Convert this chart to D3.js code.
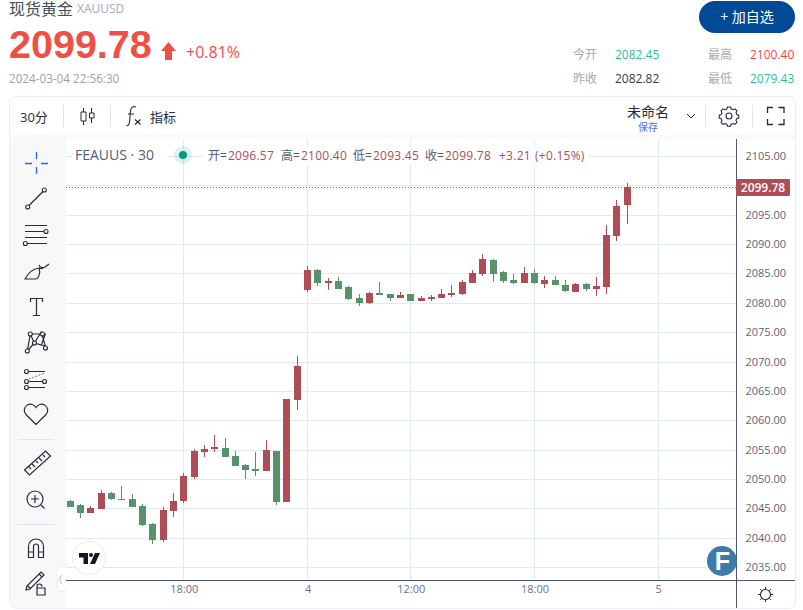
<!DOCTYPE html>
<html>
<head>
<meta charset="utf-8">
<script src="https://d3js.org/d3.v7.min.js"></script>
<style>
body { margin: 0; background: #fff; overflow: hidden; }
svg { display: block; }
text { font-family: "Open Sans", "Noto Sans CJK SC", sans-serif; }
</style>
</head>
<body>
<div id="chart"></div>
<script>
// candle values (red = up, green = down)
var opens = [2046.24,2045.56,2044.25,2044.88,2047.6,2046.58,2046.58,2045.39,2042.32,2039.65,2044.54,2046.24,2050.33,2054.59,2055.1,2055.27,2053.91,2052.37,2051.69,2051.35,2054.76,2046.07,2063.45,2082.18,2085.59,2083.37,2083.71,2082.69,2080.82,2079.97,2081.67,2081.5,2080.82,2081.5,2080.31,2080.65,2080.82,2081.33,2081.5,2083.37,2084.91,2087.29,2085.25,2083.88,2083.37,2085.08,2083.2,2083.88,2083.03,2081.84,2083.2,2082.35,2082.69,2091.38,2096.57];
var highs = [2046.41,2045.73,2045.39,2048.12,2047.77,2048.8,2047.43,2045.73,2042.49,2045.22,2047.6,2051.01,2055.1,2055.78,2057.48,2056.97,2054.76,2052.54,2054.59,2056.63,2054.76,2063.62,2070.94,2086.27,2085.76,2084.22,2084.4,2082.86,2081.5,2081.84,2083.54,2081.5,2081.84,2081.5,2081.16,2081.33,2082.35,2083.03,2083.88,2085.59,2088.31,2087.46,2085.42,2084.91,2086.1,2085.76,2084.57,2084.57,2083.88,2083.37,2083.37,2084.4,2093.25,2097.51,2100.4];
var lows = [2045.27,2043.4,2044.25,2044.88,2046.41,2046.41,2045.27,2042.03,2038.92,2039.31,2043.57,2045.9,2049.99,2053.74,2054.59,2053.74,2052.2,2049.99,2050.5,2051.35,2045.56,2046.07,2061.74,2081.84,2082.86,2082.18,2082.35,2080.48,2079.46,2079.8,2081.33,2080.31,2080.82,2080.31,2080.31,2080.31,2080.82,2080.99,2081.33,2083.37,2084.57,2083.54,2083.37,2083.2,2083.37,2083.2,2082.52,2083.03,2081.84,2081.84,2082.01,2081.16,2081.5,2090.53,2093.45];
var closes = [2045.27,2044.25,2045.05,2047.6,2046.58,2046.41,2045.27,2042.2,2039.65,2044.71,2046.24,2050.5,2054.76,2055.1,2055.44,2053.74,2052.2,2051.52,2051.35,2054.93,2046.07,2063.62,2069.24,2085.59,2083.37,2083.71,2082.35,2080.65,2079.97,2081.67,2081.33,2080.82,2081.33,2080.31,2080.82,2080.99,2081.5,2081.67,2083.54,2085.08,2087.46,2084.91,2083.71,2083.37,2085.08,2083.37,2083.88,2083.03,2082.01,2083.2,2082.35,2082.86,2091.55,2096.49,2099.78];
var priceTicks = [2035,2040,2045,2050,2055,2060,2065,2070,2075,2080,2085,2090,2095,2100,2105];
var timeTicks = [11,23,33,45,57];
var timeLabels = ["18:00","4","12:00","18:00","5"];
var lastPrice = 2099.78;
var stats = [
    ["今开","2082.45","#2fbd97",573,55],
    ["最高","2100.40","#f0484a",708,55],
    ["昨收","2082.82","#333a4d",573,79],
    ["最低","2079.43","#2fbd97",708,79]
];
var legend = [["开=","2096.57",208],["高=","2100.40",281],["低=","2093.45",353],["收=","2099.78",425]];

var red = "#ae4d56", green = "#57926a", grid = "#dfeaf1", axisLine = "#4a5778";

var svg = d3.select("#chart").append("svg").attr("width", 803).attr("height", 610);

function label(x, y, s, size, fill, anchor, weight) {
    return svg.append("text").attr("x", x).attr("y", y).text(s)
        .attr("font-size", size).attr("fill", fill)
        .attr("text-anchor", anchor || "start").attr("font-weight", weight || 400);
}

// scales
var x = d3.scaleLinear().domain([0, 54]).range([70.3, 627.3]);
var y = d3.scaleLinear().domain([2035, 2105]).range([567, 156]);

// header
label(9, 15, "现货黄金", 16, "#4a4f5c");
label(77, 13, "XAUUSD", 12, "#a3abbd");
label(9, 58, "2099.78", 39.5, "#ee5045", "start", 700).style("font-family", "Liberation Sans");
svg.append("path").attr("d", "M168.500 42 L176 51 L172 51 L172 60 L165 60 L165 51 L161 51 Z").attr("fill", "#ee5045");
label(186, 58, "+0.81%", 16, "#ee5045", "start", 500);
label(9, 83, "2024-03-04 22:56:30", 11.700, "#a0a0a6");

svg.append("rect").attr("x", 699).attr("y", 1).attr("width", 96).attr("height", 32).attr("rx", 16).attr("fill", "#004a95");
label(747, 22, "+ 加自选", 14, "#fff", "middle");

stats.forEach(function(d) {
    label(d[3], d[4] + 4, d[0], 12, "#a7a9b1");
    label(d[3] + 42, d[4] + 4, d[1], 12, d[2]);
});

// frame and panels
svg.append("rect").attr("x", 9.5).attr("y", 96.5).attr("width", 786).attr("height", 512).attr("rx", 7)
    .attr("fill", "#fff").attr("stroke", "#e9ecf2");
svg.append("rect").attr("x", 10).attr("y", 135).attr("width", 785).attr("height", 4).attr("fill", "#f8f9fa");
svg.append("rect").attr("x", 10).attr("y", 138).attr("width", 56).attr("height", 470).attr("fill", "#f8f8f9");

// grid
svg.append("g").selectAll("line").data(priceTicks).join("line")
    .attr("x1", 66).attr("x2", 736).attr("y1", function(d) { return Math.round(y(d)) + 0.5; })
    .attr("y2", function(d) { return Math.round(y(d)) + 0.5; })
    .attr("stroke", grid);
svg.append("g").selectAll("line").data(timeTicks).join("line")
    .attr("y1", 139).attr("y2", 580).attr("x1", function(d) { return Math.floor(x(d)) + 0.5; })
    .attr("x2", function(d) { return Math.floor(x(d)) + 0.5; })
    .attr("stroke", grid);

// legend, with the white patches the page puts behind it
svg.append("rect").attr("x", 72).attr("y", 147).attr("width", 96).attr("height", 18).attr("fill", "#fff");
svg.append("rect").attr("x", 203).attr("y", 147).attr("width", 385).attr("height", 18).attr("fill", "#fff");
label(75, 160, "FEAUUS · 30", 14, "#535c73");
svg.append("circle").attr("cx", 183).attr("cy", 155).attr("r", 9).attr("fill", "#089981").attr("opacity", 0.13);
svg.append("circle").attr("cx", 183).attr("cy", 155).attr("r", 4).attr("fill", "#089981");
legend.forEach(function(d) {
    label(d[2], 160, d[0], 12, "#535c73");
    label(d[2] + 20, 160, d[1], 12, red).attr("letter-spacing", 0.25);
});
label(499, 160, "+3.21", 12, red).attr("letter-spacing", 0.25);
label(535, 160, "(+0.15%)", 12, red).attr("letter-spacing", 0.25);

// last price line
svg.append("line").attr("x1", 66).attr("x2", 736).attr("y1", 187.5).attr("y2", 187.5)
    .attr("stroke", red).attr("stroke-dasharray", "1 2");

// candles
var candles = svg.append("g").selectAll("g").data(d3.range(opens.length)).join("g")
    .attr("fill", function(i) { return closes[i] >= opens[i] ? red : green; });
candles.append("rect")
    .attr("x", function(i) { return Math.floor(x(i)); }).attr("width", 1)
    .attr("y", function(i) { return Math.round(y(highs[i])); })
    .attr("height", function(i) { return Math.round(y(lows[i])) - Math.round(y(highs[i])); });
candles.append("rect")
    .attr("x", function(i) { return Math.floor(x(i)) - 3; }).attr("width", 7)
    .attr("y", function(i) { return Math.round(y(Math.max(opens[i], closes[i]))); })
    .attr("height", function(i) {
        return Math.max(1, Math.round(y(Math.min(opens[i], closes[i]))) - Math.round(y(Math.max(opens[i], closes[i]))));
    });

// axes (the 2100 label sits under the price tag in the original, so it is left out)
var priceAxis = svg.append("g").attr("transform", "translate(736.5,0)")
    .call(d3.axisRight(y).tickValues(priceTicks.filter(function(d) { return d !== 2100; }))
        .tickSize(0).tickPadding(9).tickFormat(function(d) { return d.toFixed(2); }));
priceAxis.select(".domain").remove();
priceAxis.selectAll("text").attr("font-size", 11).attr("font-family", "Open Sans").attr("fill", "#5c6478");

var timeAxis = svg.append("g").attr("transform", "translate(0,580.5)")
    .call(d3.axisBottom(x).tickValues(timeTicks).tickSize(0).tickPadding(5).tickFormat(function(d, i) { return timeLabels[i]; }));
timeAxis.select(".domain").remove();
timeAxis.selectAll("text").attr("font-size", 11).attr("font-family", "Open Sans").attr("fill", "#6b7187");

svg.append("line").attr("x1", 66).attr("x2", 795).attr("y1", 580.5).attr("y2", 580.5).attr("stroke", axisLine);
svg.append("line").attr("x1", 736.5).attr("x2", 736.5).attr("y1", 139).attr("y2", 608).attr("stroke", axisLine);

// price tag
svg.append("rect").attr("x", 736).attr("y", 179).attr("width", 54).attr("height", 17).attr("rx", 1).attr("fill", red);
label(763, 192, lastPrice.toFixed(2), 12, "#fff", "middle", 600);

// top toolbar
label(20, 122, "30分", 13, "#262b3a");
label(150, 122, "指标", 13, "#262b3a");
label(627, 117, "未命名", 14, "#262b3a");
label(638, 131, "保存", 10, "#4f6ff0");

function sep(x1, y1, x2, y2, c) {
    svg.append("line").attr("x1", x1).attr("y1", y1).attr("x2", x2).attr("y2", y2).attr("stroke", c || "#e0e3eb");
}
sep(63.5, 105, 63.5, 127); sep(110.5, 105, 110.5, 127);
sep(705.5, 105, 705.5, 127); sep(752.5, 105, 752.5, 127);
sep(18, 439.5, 54, 439.5); sep(18, 524.5, 54, 524.5);

function icon(d, c, w) {
    return svg.append("path").attr("d", d).attr("fill", "none").attr("stroke", c || "#262b3a").attr("stroke-width", w || 1.2);
}
function dot(cx, cy) {
    svg.append("circle").attr("cx", cx).attr("cy", cy).attr("r", 2).attr("fill", "#f8f8f9").attr("stroke", "#262b3a").attr("stroke-width", 1.1);
}

icon("M83.500 108v4 M83.500 121v4 M81 112h5v9h-5z M91.500 108v5 M91.500 118v5 M89.500 113h4.500v5h-4.500z", "#262b3a", 1);
icon("M136 107c-3-1-5 0-5.500 4l-1 11c-.5 3-1.500 4-3 3.500 M128 114h6", "#262b3a", 1.1);
icon("M135 119.500l5.500 5 M140.500 119.500l-5.500 5", "#262b3a", 1.2);

icon("M687 114l4 4 4-4", "#262b3a", 1);
svg.append("circle").attr("cx", 729).attr("cy", 116).attr("r", 3).attr("fill", "none").attr("stroke", "#262b3a").attr("stroke-width", 1.1);
icon("M727 106.500h4l.8 2.500 2.500 1 2.400-1.200 2.500 2.700-1.200 2.300 1 2.400 2.500.8v3.600l-2.500.8-1 2.400 1.200 2.300-2.500 2.700-2.400-1.200-2.500 1-.8 2.500h-4l-.8-2.500-2.500-1-2.400 1.200-2.500-2.700 1.200-2.300-1-2.400-2.500-.8v-3.600l2.500-.8 1-2.400-1.200-2.300 2.500-2.700 2.400 1.200 2.500-1z", "#262b3a", 1.4)
    .attr("transform", "translate(729,116) scale(.78) translate(-729,-118)");
icon("M767.500 113v-5.500h5.500 M778.500 107.500h5.500v5.500 M784 119v5.500h-5.500 M773 124.500h-5.500v-5.500", "#262b3a", 1.3);

// left toolbar
icon("M36.500 152v7 M36.500 167v7 M25 163.500h7 M41 163.500h7", "#2962ff", 1.3);
icon("M29 205.500L43 191.500");
dot(44.300, 190); dot(27.700, 207);
icon("M25 225.500h22 M25 231.500h19 M25 237.500h22 M27 243.500h20");
dot(46, 231.500); dot(25.300, 243.500);
icon("M25 279c3-6 8-10 14-11 2 5-1 11-3 11z M39 268c2 1 4 1 5-1 M39 265c1 3 4 3 6 2l4-3");
icon("M30.500 302v-3.500h12v3.500 M36.500 298.500v17 M33 315.500h7", "#262b3a", 1.2);
icon("M30.300 334l-3 17 7-8 7 2 4-11z M30.300 334l4 9 7-11 4 14-4-1");
dot(30.300, 334); dot(27.300, 351); dot(34.500, 343); dot(42.500, 334); dot(45.500, 348);
icon("M27 371.500h18 M27 381.500h18 M27 387.500h18");
icon("M29 379l16-6", "#262b3a", 0.8).attr("stroke-dasharray", "1.500 2");
dot(26.500, 371.500); dot(26.500, 381.500); dot(44.500, 381.500); dot(26.500, 387.500);
icon("M36 424.500l-10-10c-6-7 5-15 10-7 5-8 16 0 10 7z");

icon("M24.500 470l21-19 5 5-21 19z M29 467l2 2 M32 464l3 3 M36 461l2 2 M39 458l3 3 M43 455l2 2");
svg.append("circle").attr("cx", 35).attr("cy", 499).attr("r", 8).attr("fill", "none").attr("stroke", "#262b3a").attr("stroke-width", 1.2);
icon("M41 505l3.500 3.500 M35 495v8 M31 499h8");
icon("M28.500 557.500v-11a7.500 7.500 0 0 1 15 0v11h-5v-11a2.500 2.500 0 0 0-5 0v11z M28.500 552h5 M38.500 552h5", "#262b3a", 1.2);
icon("M27 586l14-14 3 3-14 14-4 1z M31 589l-3-3 M39 574l3 3");
icon("M37 588v-1.500a2.500 2.500 0 0 1 5 0 M37 588h8v7h-8z");

svg.append("path").attr("d", "M66 566.500h-6a3 3 0 0 0-3 3v19a3 3 0 0 0 3 3h6").attr("fill", "#fff").attr("stroke", "#e9ecf2");
icon("M61.500 575l-2 4.500 2 4.500", "#b4bac8", 1);

// TradingView badge
svg.append("circle").attr("cx", 89).attr("cy", 558).attr("r", 16.500).attr("fill", "#fff").attr("stroke", "#eeeeee").attr("stroke-width", 1.200);
svg.append("path").attr("d", "M79 553h9v11h-4.500v-6.500H79z M95 553h5l-5 11h-5z").attr("fill", "#131722");
svg.append("circle").attr("cx", 91).attr("cy", 555).attr("r", 2).attr("fill", "#131722");

// F badge
svg.append("circle").attr("cx", 722).attr("cy", 561).attr("r", 15).attr("fill", "#3f7ba8");
label(722.500, 570, "F", 25, "#fff", "middle", 700).style("font-family", "Liberation Sans");

// sun icon
svg.append("circle").attr("cx", 765.500).attr("cy", 594.500).attr("r", 5).attr("fill", "none").attr("stroke", "#262b3a").attr("stroke-width", 1.1);
icon("M765.500 587v2 M765.500 600v2 M758 594.500h2 M771 594.500h2 M760.200 589.200l1.400 1.400 M769.400 598.400l1.400 1.400 M760.200 599.800l1.400-1.400 M769.400 590.600l1.400-1.400", "#262b3a", 1);
</script>
</body>
</html>
